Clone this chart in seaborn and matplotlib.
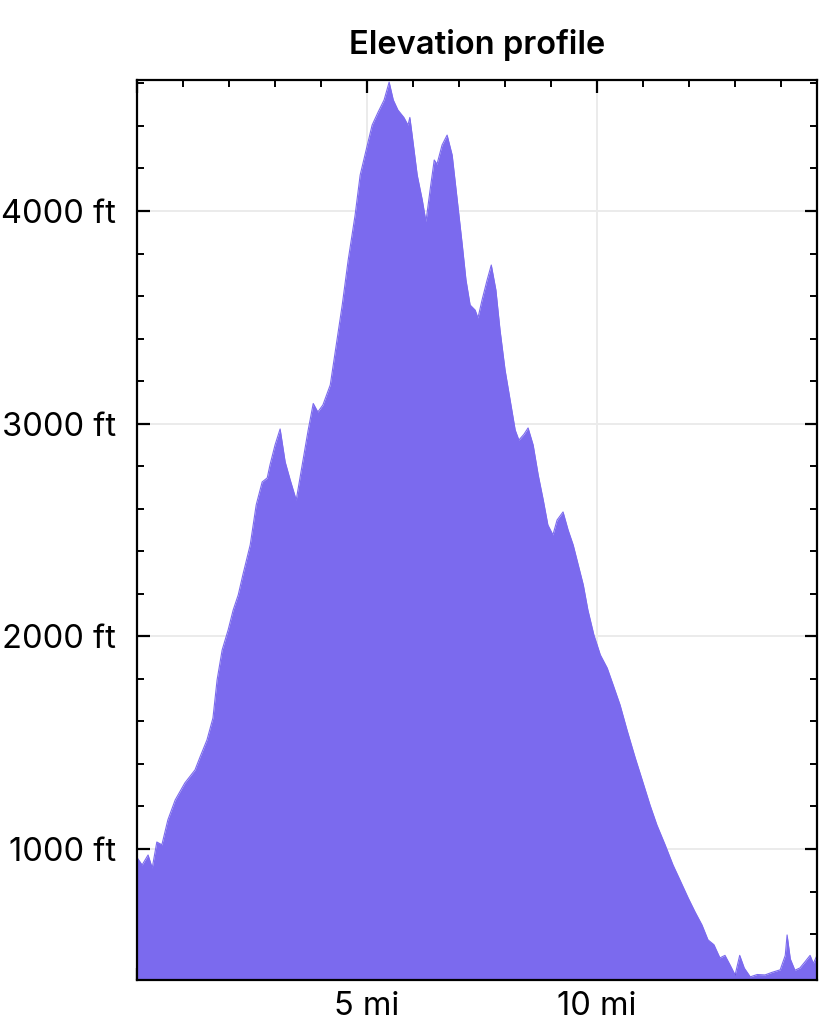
import numpy as np
import pandas as pd
import matplotlib.pyplot as plt
import matplotlib.ticker as mticker
import seaborn as sns

millas = [0.00, 0.11, 0.24, 0.33, 0.43, 0.54, 0.67, 0.83, 1.04, 1.26, 1.37, 1.52,
          1.65, 1.74, 1.85, 1.98, 2.09, 2.20, 2.30, 2.46, 2.59, 2.72, 2.83, 2.89,
          3.00, 3.11, 3.22, 3.33, 3.46, 3.59, 3.72, 3.83, 3.93, 4.04, 4.20, 4.33,
          4.46, 4.59, 4.74, 4.85, 4.98, 5.11, 5.24, 5.37, 5.48, 5.57, 5.67, 5.80,
          5.89, 5.93, 5.98, 6.09, 6.20, 6.28, 6.37, 6.46, 6.52, 6.63, 6.74, 6.85,
          6.96, 7.07, 7.15, 7.24, 7.35, 7.41, 7.50, 7.61, 7.70, 7.80, 7.89, 8.00,
          8.11, 8.22, 8.30, 8.41, 8.50, 8.61, 8.72, 8.83, 8.93, 9.04, 9.13, 9.26,
          9.37, 9.48, 9.59, 9.70, 9.80, 9.93, 10.07, 10.22, 10.35, 10.50, 10.65,
          10.83, 10.98, 11.15, 11.30, 11.48, 11.65, 11.80, 11.98, 12.13, 12.28,
          12.41, 12.54, 12.67, 12.78, 12.89, 13.00, 13.10, 13.20, 13.33, 13.48,
          13.65, 13.80, 13.98, 14.09, 14.13, 14.20, 14.30, 14.41, 14.52, 14.63,
          14.70, 14.78]
elevacion = [960, 925, 972, 911, 1033, 1020, 1137, 1231, 1311, 1372, 1433, 1513,
             1616, 1795, 1936, 2030, 2124, 2195, 2289, 2430, 2618, 2726, 2745, 2806,
             2900, 2975, 2820, 2735, 2641, 2806, 2970, 3095, 3055, 3088, 3182, 3370,
             3558, 3770, 3981, 4169, 4287, 4404, 4465, 4522, 4606, 4522, 4475, 4440,
             4404, 4440, 4357, 4169, 4052, 3950, 4099, 4240, 4220, 4310, 4357, 4263,
             4052, 3840, 3676, 3558, 3534, 3497, 3582, 3676, 3746, 3629, 3441, 3252,
             3111, 2970, 2923, 2950, 2980, 2900, 2759, 2641, 2524, 2477, 2547, 2585,
             2500, 2430, 2336, 2242, 2124, 2007, 1913, 1851, 1771, 1677, 1560,
             1428, 1325, 1207, 1113, 1019, 925, 855, 770, 704, 643,
             573, 550, 488, 500, 455, 408, 500, 440, 399, 410,
             408, 420, 432, 500, 596, 483, 430, 441, 470, 500,
             462, 500]

df = pd.DataFrame({"millas": millas, "elevacion": elevacion})

color = "#7B6AEE"
sns.set_theme(style="ticks")
plt.rcParams["font.family"] = ["Inter", "DejaVu Sans"]
plt.rcParams["text.color"] = "black"

fig = plt.figure(figsize=(8.26, 10.23), dpi=100)
ax = fig.add_axes([0.1659, 0.042, 0.8232, 0.8798])

# area rellena bajo el perfil
ax.fill_between(df["millas"], df["elevacion"], 0, color=color, linewidth=0, zorder=2)
sns.lineplot(data=df, x="millas", y="elevacion", color=color, linewidth=0.8, ax=ax, zorder=2)

ax.set_xlim(0, 14.78)
ax.set_ylim(384, 4616)

ax.xaxis.set_major_locator(mticker.MultipleLocator(5))
ax.xaxis.set_minor_locator(mticker.MultipleLocator(1))
ax.yaxis.set_major_locator(mticker.MultipleLocator(1000))
ax.yaxis.set_minor_locator(mticker.MultipleLocator(200))
ax.xaxis.set_major_formatter(mticker.FuncFormatter(lambda v, p: "" if v == 0 else f"{v:.0f} mi"))
ax.yaxis.set_major_formatter(mticker.FuncFormatter(lambda v, p: f"{v:.0f} ft"))

ax.grid(True, which="major", color="#ebebeb", linewidth=1.4, zorder=1)
ax.set_axisbelow(True)

ax.tick_params(which="both", direction="in", top=True, right=True, color="black",
               labelsize=23.5, labelcolor="black")
ax.tick_params(which="major", length=9, width=1.6, pad=8)
ax.tick_params(which="minor", length=5, width=1.4)
ax.tick_params(axis="y", which="major", pad=15)

for s in ax.spines.values():
    s.set_linewidth(1.6)
    s.set_color("black")

ax.set_xlabel("")
ax.set_ylabel("")
ax.set_title("Elevation profile", fontsize=23.5, fontweight="semibold", pad=19, color="black")

fig.savefig("out.png", dpi=100)
